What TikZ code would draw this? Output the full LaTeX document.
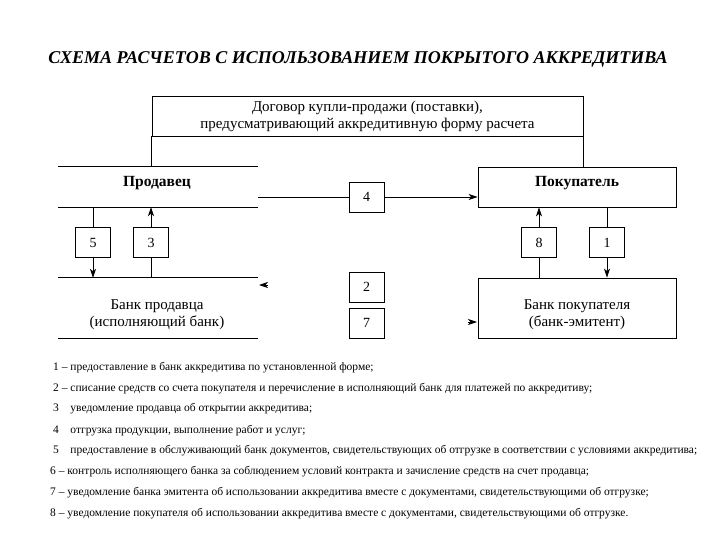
\documentclass[tikz,border=0pt]{standalone}
\usepackage{fontspec}
\setmainfont{Liberation Serif}
\usetikzlibrary{arrows.meta}
\begin{document}
\begin{tikzpicture}[x=1pt,y=-1pt,
  box/.style={draw,line width=0.8pt,inner sep=0pt},
  txt/.style={inner sep=0pt,align=center,font=\fontsize{15}{17}\selectfont},
  head/.style={inner sep=0pt,font=\fontsize{15.5}{17}\selectfont\bfseries},
  numbox/.style={draw,line width=0.8pt,minimum width=35pt,minimum height=30pt,inner sep=0pt,font=\fontsize{14}{16}\selectfont},
  ln/.style={line width=0.8pt},
  arr/.style={line width=0.8pt,-{Stealth[length=9pt,width=6pt,inset=2.5pt]}},
  leg/.style={anchor=west,inner sep=0pt,font=\fontsize{11.5}{13}\selectfont}]
\useasboundingbox (0,0) rectangle (720,540);
\node[inner sep=0pt,font=\fontsize{18}{20}\selectfont\bfseries\itshape] (title) at (358,59) {СХЕМА РАСЧЕТОВ С ИСПОЛЬЗОВАНИЕМ ПОКРЫТОГО АККРЕДИТИВА};
\node[box,minimum width=431pt,minimum height=40pt] (contract) at (367.5,116) {};
\node[txt] (contracttxt) at (367.5,116.5) {Договор купли-продажи (поставки),\\предусматривающий аккредитивную форму расчета};
\node[minimum width=200pt,minimum height=40pt,inner sep=0pt] (seller) at (158,187) {};
\draw[ln] (seller.north west) -- (seller.north east);
\draw[ln] (seller.south west) -- (seller.south east);
\node[head] (sellertxt) at (157,183) {Продавец};
\node[box,minimum width=198pt,minimum height=40pt] (buyer) at (577,187) {};
\node[head] (buyertxt) at (577,183) {Покупатель};
\node[minimum width=200pt,minimum height=60pt,inner sep=0pt] (sbank) at (158,308) {};
\draw[ln] (sbank.north west) -- (sbank.north east);
\draw[ln] (sbank.south west) -- (sbank.south east);
\node[txt] (sbanktxt) at (157,315) {Банк продавца\\(исполняющий банк)};
\node[box,minimum width=198pt,minimum height=60pt] (bbank) at (577,308) {};
\node[txt] (bbanktxt) at (577,315) {Банк покупателя\\(банк-эмитент)};
\draw[ln] (contract.south west) -- (contract.south west |- seller.north);
\draw[ln] (contract.south east) -- (contract.south east |- buyer.north);
\node[numbox] (b4) at (366.5,197) {4};
\node[numbox] (b2) at (366.5,287) {2};
\node[numbox] (b7) at (366.5,323) {7};
\node[numbox] (b5) at (93,242.5) {5};
\node[numbox] (b3) at (151,242.5) {3};
\node[numbox] (b8) at (539,242.5) {8};
\node[numbox] (b1) at (607,242.5) {1};
\draw[ln] (seller.east |- b4.west) -- (b4.west);
\draw[arr] (b4.east) -- (b4.east -| buyer.west);
\draw[ln] (b5 |- seller.south) -- (b5.north);
\draw[arr] (b5.south) -- (b5 |- sbank.north);
\draw[ln] (b3 |- sbank.north) -- (b3.south);
\draw[arr] (b3.north) -- (b3 |- seller.south);
\draw[ln] (b8 |- bbank.north) -- (b8.south);
\draw[arr] (b8.north) -- (b8 |- buyer.south);
\draw[ln] (b1 |- buyer.south) -- (b1.north);
\draw[arr] (b1.south) -- (b1 |- bbank.north);
\coordinate (t2) at (259,285);
\coordinate (t2s) at (268,285);
\draw[arr] (t2s) -- (t2);
\coordinate (t7) at (477,322);
\coordinate (t7s) at (468,322);
\draw[arr] (t7s) -- (t7);
\node[leg] (l1) at (53,368) {1 – предоставление в банк аккредитива по установленной форме;};
\node[leg] (l2) at (53,389) {2 – списание средств со счета покупателя и перечисление в исполняющий банк для платежей по аккредитиву;};
\node[leg] (l3) at (53,409) {3\enspace\ \ уведомление продавца об открытии аккредитива;};
\node[leg] (l4) at (53,431) {4\enspace\ \ отгрузка продукции, выполнение работ и услуг;};
\node[leg] (l5) at (53,451) {5\enspace\ \ предоставление в обслуживающий банк документов, свидетельствующих об отгрузке в соответствии с условиями аккредитива;};
\node[leg] (l6) at (50,472) {6 – контроль исполняющего банка за соблюдением условий контракта и зачисление средств на счет продавца;};
\node[leg] (l7) at (50,493) {7 – уведомление банка эмитента об использовании аккредитива вместе с документами, свидетельствующими об отгрузке;};
\node[leg] (l8) at (50,514) {8 – уведомление покупателя об использовании аккредитива вместе с документами, свидетельствующими об отгрузке.};
\end{tikzpicture}
\end{document}
